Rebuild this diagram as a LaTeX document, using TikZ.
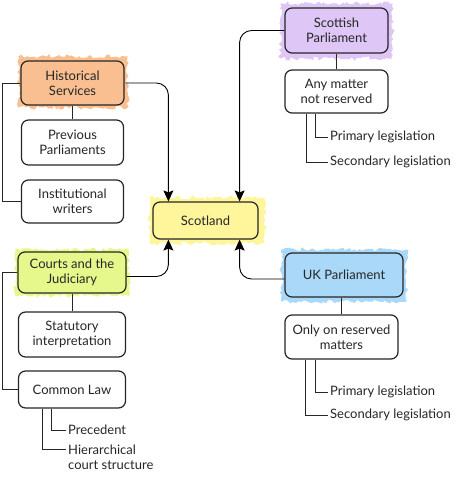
\documentclass[tikz,border=0pt]{standalone}
\usepackage{fontspec}
\setmainfont{Lato}
\usetikzlibrary{arrows.meta,decorations.pathmorphing,backgrounds}
\definecolor{orangec}{HTML}{F9BF90}
\definecolor{purplec}{HTML}{DEC6F7}
\definecolor{yellowc}{HTML}{FFF59B}
\definecolor{limec}{HTML}{E6F88C}
\definecolor{bluec}{HTML}{AAD8F8}
\definecolor{ink}{HTML}{262626}
\tikzset{
  box/.style={draw=ink, line width=1.2pt, rounded corners=7pt, align=center,
    font=\fontsize{13}{15}\selectfont, text=ink, inner sep=2pt, fill=white},
  leaf/.style={font=\fontsize{13}{15}\selectfont, text=ink, anchor=west, inner sep=2pt, align=left},
  link/.style={draw=ink, line width=0.9pt},
  arr/.style={draw=black, line width=0.9pt, rounded corners=12pt, -{Stealth[length=11pt,width=10pt,inset=2pt]}},
  fuzz/.style={decorate, decoration={random steps, segment length=2.5pt, amplitude=2pt}},
}
\begin{document}
\begin{tikzpicture}[x=1pt,y=-1pt]
\pgfmathsetseed{7}
\useasboundingbox (0,0) rectangle (457,479);
% main nodes
\node[box, fill=orangec, minimum width=103pt, minimum height=44pt] (hs) at (72.5,83) {Historical\\Services};
\node[box, minimum width=102pt, minimum height=45pt] (pp) at (72.5,142.5) {Previous\\Parliaments};
\node[box, minimum width=102pt, minimum height=43pt] (iw) at (72.5,201.5) {Institutional\\writers};
\node[box, fill=yellowc, minimum width=105pt, minimum height=37pt] (scot) at (205.5,220.5) {Scotland};
\node[box, fill=purplec, minimum width=103pt, minimum height=45pt] (sp) at (336.5,30.5) {Scottish\\Parliament};
\node[box, minimum width=103pt, minimum height=43pt] (amn) at (336.5,91.5) {Any matter\\not reserved};
\node[box, fill=limec, minimum width=108pt, minimum height=41pt] (cj) at (72,272.5) {Courts and the\\Judiciary};
\node[box, minimum width=107pt, minimum height=45pt] (si) at (72,334.5) {Statutory\\interpretation};
\node[box, minimum width=107pt, minimum height=37pt] (cl) at (72,389.5) {Common Law};
\node[box, fill=bluec, minimum width=118pt, minimum height=44pt] (uk) at (344,275) {UK Parliament};
\node[box, minimum width=113pt, minimum height=44pt] (orm) at (341.5,337) {Only on reserved\\matters};
% leaves
\node[leaf] (pl1) at (328,137) {Primary legislation};
\node[leaf] (sl1) at (328,162) {Secondary legislation};
\node[leaf] (pl2) at (328,392) {Primary legislation};
\node[leaf] (sl2) at (328,415) {Secondary legislation};
\node[leaf] (prec) at (66,430) {Precedent};
\node[leaf, anchor=north west] (hcs) at (66,443) {Hierarchical\\court structure};
% fuzzy fills
\begin{pgfonlayer}{background}
\fill[orangec, fuzz] ([shift={(-2pt,4pt)}]hs.north west) rectangle ([shift={(3pt,-2pt)}]hs.south east);
\fill[purplec, fuzz] ([shift={(-4pt,4pt)}]sp.north west) rectangle ([shift={(4pt,-5pt)}]sp.south east);
\fill[yellowc, fuzz] ([shift={(-3pt,4pt)}]scot.north west) rectangle ([shift={(6pt,-4pt)}]scot.south east);
\fill[limec, fuzz] ([shift={(-2pt,2pt)}]cj.north west) rectangle ([shift={(2pt,-2pt)}]cj.south east);
\fill[bluec, fuzz] ([shift={(-3pt,3pt)}]uk.north west) rectangle ([shift={(3pt,-4pt)}]uk.south east);
\end{pgfonlayer}
% tree links
\draw[link] (hs.south) -- (pp.north);
\draw[link] (hs.west) -- ++(-18,0) |- (iw.west);
\draw[link] (sp.south) -- (amn.north);
\draw[link] ([xshift=31pt]amn.south west) |- (pl1.west);
\draw[link] ([xshift=22pt]amn.south west) |- (sl1.west);
\draw[link] (cj.south) -- (si.north);
\draw[link] (cj.west) -- ++(-15,0) |- (cl.west);
\draw[link] ([xshift=34pt]cl.south west) |- (prec.west);
\draw[link] ([xshift=25pt]cl.south west) |- ([yshift=8pt]hcs.west);
\draw[link] (orm.north) -- (orm.north |- uk.south);
\draw[link] ([xshift=31pt]orm.south west) |- (pl2.west);
\draw[link] ([xshift=21pt]orm.south west) |- (sl2.west);
% arrows to Scotland
\draw[arr] ([xshift=1pt]hs.east) -| ([xshift=16pt]scot.north west);
\draw[arr] (sp.west) -| ([xshift=-19pt]scot.north east);
\draw[arr] ([yshift=-4pt]cj.east) -| ([xshift=16pt]scot.south west);
\draw[arr] ([yshift=-4pt]uk.west) -| ([xshift=-19pt]scot.south east);
\end{tikzpicture}
\end{document}
